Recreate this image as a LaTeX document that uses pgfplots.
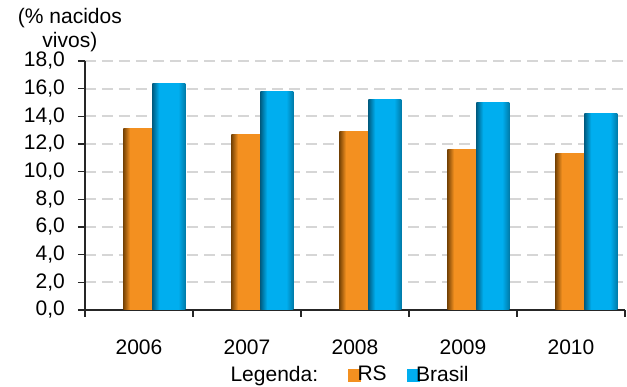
\documentclass[border=0pt]{standalone}
\usepackage{pgfplots}
\pgfplotsset{compat=1.18}
\usepackage{fontspec}
\setmainfont{Liberation Sans}
\definecolor{rsor}{HTML}{F39020}
\definecolor{rsdark}{HTML}{7A4505}
\definecolor{brbl}{HTML}{00AEEF}
\definecolor{brdark}{HTML}{005F85}
\definecolor{gridg}{HTML}{D6D6D6}
\pgfdeclarehorizontalshading{rsshade}{100bp}{color(0bp)=(rsdark); color(25bp)=(rsdark); color(36bp)=(rsor); color(75bp)=(rsor); color(100bp)=(rsor)}
\pgfdeclarehorizontalshading{brshade}{100bp}{color(0bp)=(brdark); color(25bp)=(brdark); color(35bp)=(brbl); color(64bp)=(brbl); color(75bp)=(brbl!70!black); color(100bp)=(brbl!70!black)}
\begin{document}
\begin{tikzpicture}
\path[use as bounding box] (-85pt,-77pt) rectangle (542pt,310pt);
\fontsize{21}{24}\selectfont
\begin{axis}[
  at={(0pt,0pt)}, anchor=south west,
  scale only axis, width=540pt, height=249pt,
  xmin=-0.5, xmax=4.5, ymin=0, ymax=18,
  axis lines*=left,
  axis line style={line width=1.6pt, black!85},
  xtick={-0.5,0.5,1.5,2.5,3.5,4.5},
  x tick label as interval,
  xticklabels={2006,2007,2008,2009,2010},
  ytick={0,2,...,18},
  tick align=outside,
  major tick length=7pt,
  tick style={line width=1.6pt, black!85},
  ymajorgrids,
  grid style={gridg, line width=2pt, dash pattern=on 11pt off 6pt},
  /pgf/number format/.cd, fixed, fixed zerofill, precision=1, use comma, assume math mode=true,
  /pgfplots/.cd,
  yticklabel style={font=\fontsize{21}{24}\selectfont, xshift=-6pt},
  xticklabel style={font=\fontsize{21}{24}\selectfont, yshift=-16pt},
  legend style={at={(0.49,-0.261)}, anchor=center, draw=none, fill=none,
    legend columns=3, font=\fontsize{21}{24}\selectfont,
    /tikz/every even column/.append style={column sep=0pt},
    /tikz/every odd column/.append style={column sep=0pt}},
  legend cell align=left,
  clip=false,
]
\addlegendimage{empty legend}
\addlegendentry{Legenda:\rule{28pt}{0pt}}
\addlegendimage{legend image code/.code={\fill[rsor] (0pt,-6pt) rectangle (12pt,6pt);}}
\addlegendentry{\hspace{-5pt}RS\rule{18pt}{0pt}}
\addlegendimage{legend image code/.code={\fill[brbl] (0pt,-6pt) rectangle (12pt,6pt);}}
\addlegendentry{\hspace{-5pt}Brasil}
% RS
\addplot[ybar, bar width=29pt, bar shift=-1pt, draw=none, shading=rsshade, forget plot] coordinates {(0,13.1)};
\addplot[ybar, bar width=29pt, bar shift=-1pt, draw=none, shading=rsshade, forget plot] coordinates {(1,12.7)};
\addplot[ybar, bar width=29pt, bar shift=-1pt, draw=none, shading=rsshade, forget plot] coordinates {(2,12.9)};
\addplot[ybar, bar width=29pt, bar shift=-1pt, draw=none, shading=rsshade, forget plot] coordinates {(3,11.6)};
\addplot[ybar, bar width=29pt, bar shift=-1pt, draw=none, shading=rsshade, forget plot] coordinates {(4,11.3)};
% Brasil
\addplot[ybar, bar width=33pt, bar shift=30pt, draw=none, shading=brshade, forget plot] coordinates {(0,16.4)};
\addplot[ybar, bar width=33pt, bar shift=30pt, draw=none, shading=brshade, forget plot] coordinates {(1,15.8)};
\addplot[ybar, bar width=33pt, bar shift=30pt, draw=none, shading=brshade, forget plot] coordinates {(2,15.2)};
\addplot[ybar, bar width=33pt, bar shift=30pt, draw=none, shading=brshade, forget plot] coordinates {(3,15.0)};
\addplot[ybar, bar width=33pt, bar shift=30pt, draw=none, shading=brshade, forget plot] coordinates {(4,14.2)};
\node[align=center, anchor=center, font=\fontsize{21}{24}\selectfont] at (rel axis cs:-0.028,1.1245) {(\% nacidos\\vivos)};
\end{axis}
\end{tikzpicture}
\end{document}
